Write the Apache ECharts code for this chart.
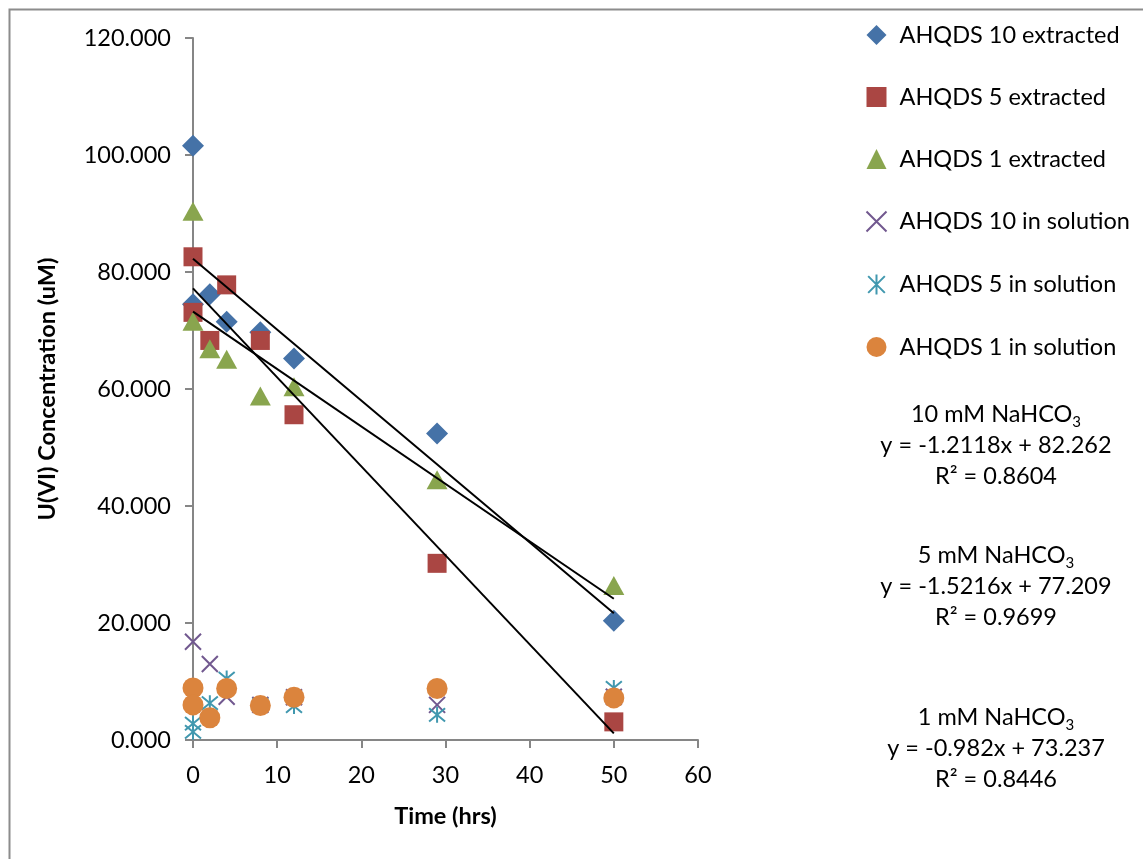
<!DOCTYPE html>
<html>
<head>
<meta charset="utf-8">
<script src="https://cdn.jsdelivr.net/npm/echarts@6/dist/echarts.min.js"></script>
<style>
  html, body { margin: 0; padding: 0; background: #fff; }
  #chart { width: 1143px; height: 859px; }
</style>
</head>
<body>
<div id="chart"></div>
<script>
// 数据: 时间 (hrs) 与 U(VI) 浓度 (uM)
const ahqds10ExtX = [0, 0, 2, 4, 8, 12, 29, 50];
const ahqds10ExtY = [101.6, 74.5, 76.2, 71.5, 69.7, 65.2, 52.4, 20.4];
const ahqds5ExtX = [0, 0, 2, 4, 8, 12, 29, 50];
const ahqds5ExtY = [82.6, 73.1, 68.3, 77.8, 68.3, 55.6, 30.2, 3.1];
const ahqds1ExtX = [0, 0, 2, 4, 8, 12, 29, 50];
const ahqds1ExtY = [90.4, 71.6, 66.9, 65.1, 58.8, 60.4, 44.5, 26.4];
const ahqds10SolX = [0, 2, 4, 8, 12, 29, 50];
const ahqds10SolY = [16.8, 13.0, 7.4, 6.0, 7.3, 6.0, 7.4];
const ahqds5SolX = [0, 0, 2, 4, 8, 12, 29, 50];
const ahqds5SolY = [2.8, 1.4, 6.3, 10.5, 6.0, 5.8, 4.3, 8.9];
const ahqds1SolX = [0, 0, 2, 4, 8, 12, 29, 50];
const ahqds1SolY = [8.9, 6.0, 3.8, 8.8, 5.9, 7.3, 8.8, 7.2];

// 趋势线 (线性拟合, 来自图中公式)
const trendNames = ['10 mM NaHCO3', '5 mM NaHCO3', '1 mM NaHCO3'];
const trendSlopes = [-1.2118, -1.5216, -0.982];
const trendIntercepts = [82.262, 77.209, 73.237];
const trendR2 = ['0.8604', '0.9699', '0.8446'];
const trendRangeX = [0, 50];

function pairs(xs, ys) { return xs.map((x, i) => [x, ys[i]]); }

let myEchart = echarts.init(document.getElementById('chart'));
let colors = ['#4572A7', '#AA4643', '#89A54E', '#71588F', '#4198AF', '#DB843D'];
const font = 'Lato, "Open Sans", sans-serif';
const fs = 23.5;
const xMark = 'path://M0,0L10,10M10,0L0,10';
const starMark = 'path://M0,0L10,10M10,0L0,10M5,-1L5,11';

let series = [
  { name: 'AHQDS 10 extracted', type: 'scatter', symbol: 'diamond', symbolSize: 22,
    itemStyle: { color: colors[0], opacity: 1 },
    data: pairs(ahqds10ExtX, ahqds10ExtY), z: 3 },
  { name: 'AHQDS 5 extracted', type: 'scatter', symbol: 'rect', symbolSize: 19,
    itemStyle: { color: colors[1], opacity: 1 },
    data: pairs(ahqds5ExtX, ahqds5ExtY), z: 3 },
  { name: 'AHQDS 1 extracted', type: 'scatter', symbol: 'triangle', symbolSize: [21, 19],
    itemStyle: { color: colors[2], opacity: 1 },
    data: pairs(ahqds1ExtX, ahqds1ExtY), z: 3 },
  { name: 'AHQDS 10 in solution', type: 'scatter', symbol: xMark, symbolSize: 16,
    itemStyle: { color: 'none', borderColor: colors[3], borderWidth: 2, opacity: 1 },
    data: pairs(ahqds10SolX, ahqds10SolY), z: 3 },
  { name: 'AHQDS 5 in solution', type: 'scatter', symbol: starMark, symbolSize: 16,
    itemStyle: { color: 'none', borderColor: colors[4], borderWidth: 2, opacity: 1 },
    data: pairs(ahqds5SolX, ahqds5SolY), z: 3 },
  { name: 'AHQDS 1 in solution', type: 'scatter', symbol: 'circle', symbolSize: 21,
    itemStyle: { color: colors[5], opacity: 1 },
    data: pairs(ahqds1SolX, ahqds1SolY), z: 3 }
];

trendNames.forEach((n, i) => {
  series.push({
    name: n, type: 'line', showSymbol: false, symbol: 'none', z: 4,
    lineStyle: { color: '#000', width: 2 },
    data: trendRangeX.map(x => [x, trendSlopes[i] * x + trendIntercepts[i]])
  });
});

const eqTops = [399, 540, 702];
let graphics = [
  { type: 'rect', left: 7, top: 7, shape: { width: 1200, height: 900 },
    style: { fill: 'none', stroke: '#8c8c8c', lineWidth: 2 }, silent: true }
];
trendNames.forEach((n, i) => {
  const conc = n.split(' ')[0];
  graphics.push({
    type: 'text',
    style: {
      x: 996, y: eqTops[i], textAlign: 'center', textVerticalAlign: 'top',
      text: '{a|' + conc + ' mM NaHCO}{s|3}\n{a|y = ' + trendSlopes[i] + 'x + ' + trendIntercepts[i] + '}\n{a|R² = ' + trendR2[i] + '}',
      rich: {
        a: { fontFamily: font, fontSize: fs, lineHeight: 31, color: '#000' },
        s: { fontFamily: font, fontSize: 15, lineHeight: 31, color: '#000', verticalAlign: 'bottom', padding: [10, 0, 0, 0] }
      }
    }
  });
});

let option = {
  color: colors,
  animation: false,
  textStyle: { fontFamily: font },
  grid: { left: 193, top: 38, width: 505, height: 702 },
  legend: {
    data: series.slice(0, 6).map(s => s.name),
    orient: 'vertical', left: 859, top: 18,
    itemWidth: 20, itemHeight: 20, itemGap: 38,
    textStyle: { fontFamily: font, fontSize: fs, lineHeight: 20, color: '#000', padding: [0, 0, 0, 8] }
  },
  xAxis: {
    type: 'value', min: 0, max: 60, interval: 10,
    name: 'Time (hrs)', nameLocation: 'middle', nameGap: 64,
    nameTextStyle: { fontFamily: font, fontSize: fs, fontWeight: 'bold', color: '#000' },
    axisLine: { onZero: false, lineStyle: { color: '#868686', width: 2 } },
    axisTick: { show: true, length: 8, lineStyle: { color: '#868686', width: 2 } },
    axisLabel: { fontFamily: font, fontSize: fs, color: '#000', margin: 23 },
    splitLine: { show: false }
  },
  yAxis: {
    type: 'value', min: 0, max: 120, interval: 20,
    name: 'U(VI) Concentration (uM)', nameLocation: 'middle', nameGap: 134,
    nameTextStyle: { fontFamily: font, fontSize: fs, fontWeight: 'bold', color: '#000' },
    axisLine: { show: true, lineStyle: { color: '#868686', width: 2 } },
    axisTick: { show: true, length: 8, lineStyle: { color: '#868686', width: 2 } },
    axisLabel: { fontFamily: font, fontSize: fs, color: '#000', margin: 22,
      formatter: v => v.toFixed(3) },
    splitLine: { show: false }
  },
  series: series,
  graphic: graphics
};
myEchart.setOption(option);
</script>
</body>
</html>
